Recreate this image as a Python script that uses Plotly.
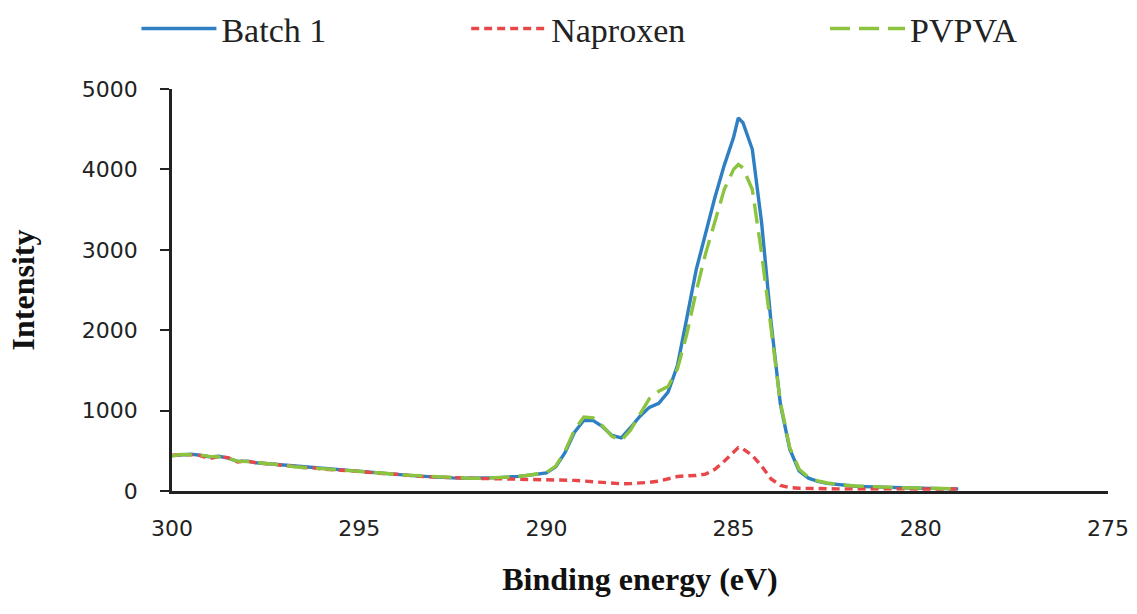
import plotly.graph_objects as go

binding_energy = [
    300.00, 299.75, 299.50, 299.25, 299.00, 298.75, 298.50, 298.25, 298.00, 297.75,
    297.50, 297.25, 297.00, 296.75, 296.50, 296.25, 296.00, 295.75, 295.50, 295.25,
    295.00, 294.75, 294.50, 294.25, 294.00, 293.75, 293.50, 293.25, 293.00, 292.75,
    292.50, 292.25, 292.00, 291.75, 291.50, 291.25, 291.00, 290.75, 290.50, 290.25,
    290.00, 289.75, 289.50, 289.25, 289.00, 288.75, 288.50, 288.25, 288.00, 287.75,
    287.50, 287.25, 287.00, 286.75, 286.50, 286.25, 286.00, 285.75, 285.50, 285.25,
    285.00, 284.875, 284.75, 284.50, 284.25, 284.00, 283.75, 283.50, 283.25, 283.00,
    282.75, 282.50, 282.25, 282.00, 281.75, 281.50, 281.25, 281.00, 280.75, 280.50,
    280.25, 280.00, 279.75, 279.50, 279.25, 279.00,
]

batch1 = [
    440, 452, 458, 445, 425, 432, 410, 368, 372, 352,
    342, 330, 318, 306, 296, 288, 276, 268, 262, 250,
    244, 236, 224, 215, 206, 197, 188, 180, 174, 168,
    163, 160, 158, 160, 163, 166, 172, 182, 195, 208,
    225, 300, 480, 730, 880, 875, 800, 690, 660, 790,
    930, 1040, 1090, 1230, 1560, 2150, 2750, 3200, 3650, 4050,
    4400, 4640, 4580, 4250, 3330, 2100, 1080, 520, 250, 160,
    120, 95, 80, 68, 60, 55, 50, 46, 42, 40,
    38, 35, 33, 30, 28, 26,
]

naproxen = [
    445, 448, 452, 440, 402, 428, 415, 362, 376, 348,
    344, 333, 314, 309, 292, 290, 272, 270, 258, 252,
    240, 238, 220, 212, 208, 194, 186, 178, 172, 166,
    162, 160, 158, 156, 154, 152, 150, 150, 150, 149,
    148, 145, 140, 132, 124, 115, 105, 96, 90, 92,
    96, 108, 122, 150, 180, 190, 192, 210, 270, 370,
    490, 540, 525, 440, 310, 150, 70, 42, 34, 30,
    28, 28, 27, 27, 26, 26, 26, 25, 25, 25,
    25, 25, 25, 25, 25, 25,
]

pvpva = [
    436, 455, 450, 448, 430, 425, 405, 372, 366, 356,
    338, 334, 320, 302, 298, 284, 278, 264, 260, 253,
    246, 232, 226, 218, 204, 198, 190, 182, 171, 170,
    165, 161, 157, 158, 161, 165, 170, 180, 196, 210,
    230, 310, 500, 760, 920, 910, 810, 680, 630, 760,
    950, 1150, 1240, 1300, 1520, 1950, 2480, 2950, 3350, 3750,
    4000, 4060, 4020, 3750, 2950, 2000, 1100, 540, 270, 170,
    125, 100, 84, 72, 63, 57, 52, 48, 44, 41,
    39, 36, 34, 31, 29, 27,
]

x_ticks = [300, 295, 290, 285, 280, 275]
y_ticks = [0, 1000, 2000, 3000, 4000, 5000]

fig = go.Figure()
fig.add_trace(go.Scatter(
    x=binding_energy, y=batch1, name="Batch 1", mode="lines",
    line=dict(color="#2F7FC3", width=3.4), legend="legend", showlegend=True,
))
fig.add_trace(go.Scatter(
    x=binding_energy, y=naproxen, name="Naproxen", mode="lines",
    line=dict(color="#E8474A", width=3.4, dash="8px,5px"), legend="legend2", showlegend=True,
))
fig.add_trace(go.Scatter(
    x=binding_energy, y=pvpva, name="PVPVA", mode="lines",
    line=dict(color="#8CC43F", width=3.4, dash="20px,9px"), legend="legend3", showlegend=True,
))

legend_font = dict(family="Liberation Serif, Times New Roman, serif", size=34, color="#222222")
common_legend = dict(orientation="h", xref="container", yref="container",
                     yanchor="middle", y=0.953, xanchor="left",
                     font=legend_font, bgcolor="rgba(0,0,0,0)", itemwidth=75,
                     borderwidth=0, tracegroupgap=0)

fig.update_layout(
    width=1137, height=614,
    showlegend=True,
    margin=dict(l=172, r=29, t=89, b=123, autoexpand=False),
    paper_bgcolor="white", plot_bgcolor="white",
    legend=dict(x=0.120, **common_legend),
    legend2=dict(x=0.410, **common_legend),
    legend3=dict(x=0.7256, **common_legend),
    xaxis=dict(
        range=[300, 275], tickvals=x_ticks, ticktext=[str(v) for v in x_ticks],
        showgrid=False, zeroline=False, showline=True, linecolor="#222222", linewidth=2.5,
        ticks="", ticklabelstandoff=16, automargin=False,
        tickfont=dict(family="DejaVu Sans", size=22, color="#222222"),
        title=dict(text="<b>Binding energy (eV)</b>", standoff=28,
                   font=dict(family="Liberation Serif, Times New Roman, serif", size=32, color="#111111")),
    ),
    yaxis=dict(
        range=[0, 5000], tickvals=y_ticks, ticktext=[str(v) for v in y_ticks],
        showgrid=False, zeroline=False, showline=True, linecolor="#222222", linewidth=2.5,
        ticks="outside", ticklen=9, tickwidth=2, tickcolor="#222222", ticklabelstandoff=18,
        automargin=False,
        tickfont=dict(family="DejaVu Sans", size=22, color="#222222"),
        title=dict(text="<b>Intensity</b>", standoff=38,
                   font=dict(family="Liberation Serif, Times New Roman, serif", size=32, color="#111111")),
    ),
)

fig.write_html("out.html", config={"displayModeBar": False},
               post_script="document.body.style.margin='0';")
